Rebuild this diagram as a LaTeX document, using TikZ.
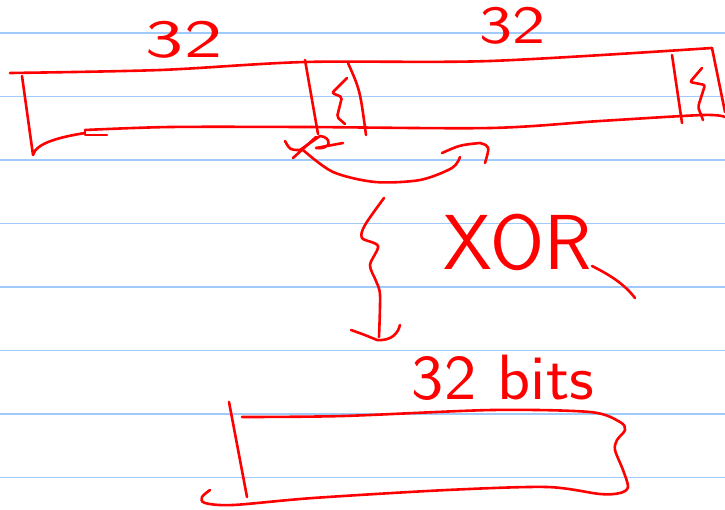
\documentclass[tikz,border=0pt]{standalone}
\usepackage{fontspec}
\definecolor{ink}{RGB}{255,0,0}
\definecolor{ruleblue}{RGB}{160,202,250}
\tikzset{
  pen/.style={draw=ink, line width=2.6pt, line cap=round, line join=round},
  ruling/.style={draw=ruleblue, line width=1.8pt},
  hand/.style={text=ink, font=\sffamily, inner sep=0pt, anchor=center}
}
\begin{document}
\begin{tikzpicture}[x=1pt,y=-1pt]
  \fill[white] (0,0) rectangle (725,509);
  \useasboundingbox (0,0) rectangle (725,509);

  % ruled paper
  \foreach \yy in {33,96.5,160,223.5,287,350.5,414,477.5}
    \draw[ruling] (0,\yy) -- (725,\yy);

  % width labels over the 64-bit block
  \node[hand, font=\sffamily\fontsize{54}{54}\selectfont, xscale=1.5] (lenA) at (184,40) {32};
  \node[hand, font=\sffamily\fontsize{54}{54}\selectfont, xscale=1.3] (lenB) at (512,26) {32};

  % 64-bit block
  \draw[pen] plot[smooth] coordinates {(10,73) (160,70) (305,62) (490,61) (712,48)};
  \draw[pen] (712,48) -- (725,112);
  \draw[pen] plot[smooth] coordinates {(85,130) (170,127) (305,127) (490,128) (600,121) (703,115) (725,117)};
  \draw[pen] (85,131) -- (85,135) -- (107,135);
  \draw[pen] (22,76) -- (33,155) .. controls (36,143) and (60,137) .. (85,133);

  % middle cell with squiggle
  \draw[pen] (305,60) -- (318,134);
  \draw[pen] (348,63) .. controls (360,90) .. (366,135);
  \draw[pen, rounded corners=2pt] (347,78) -- (332,93) -- (342,97) -- (337,117) -- (345,124);

  % right cell with squiggle
  \draw[pen] (672,55) -- (682,123);
  \draw[pen, rounded corners=2pt] (702,68) -- (690,82) -- (705,85) -- (698,107) -- (703,120);

  % crossed mark and swap arrow
  \draw[pen] (285,141) .. controls (290,150) .. (300,150) -- (320,136)
             .. controls (332,137) and (332,150) .. (316,148) -- (343,143);
  \draw[pen] (293,158) -- (316,137);
  \draw[pen] plot[smooth] coordinates {(303,150) (333,172) (375,182) (420,180) (452,168) (460,157)};
  \draw[pen] (442,153) .. controls (460,145) .. (480,143) .. controls (490,146) .. (485,163);

  % brace down to the result
  \draw[pen] plot[smooth, tension=0.5] coordinates
    {(384,198) (365,225) (362,238) (378,246) (370,265) (376,281) (380,295) (379,337)};
  \draw[pen] (351,330) .. controls (365,335) .. (377,340) .. controls (392,341) and (398,333) .. (400,325);

  % operation
  \node[hand, font=\sffamily\fontsize{78}{78}\selectfont] (op) at (518,242) {XOR};
  \draw[pen] (592,266) .. controls (612,276) and (625,285) .. (635,298);

  % result block
  \node[hand, font=\sffamily\fontsize{64}{64}\selectfont, xscale=1.07] (res) at (503,378) {32 bits};
  \draw[pen] (229,402) -- (247,497);
  \draw[pen] plot[smooth, tension=0.5] coordinates
    {(242,417) (343,416) (492,410) (590,412) (620,422) (625,430) (617,440) (615,450)
     (623,470) (628,487) (620,493) (600,494) (547,487) (447,490) (313,498) (233,505)
     (205,503) (202,497) (210,490)};
\end{tikzpicture}
\end{document}
